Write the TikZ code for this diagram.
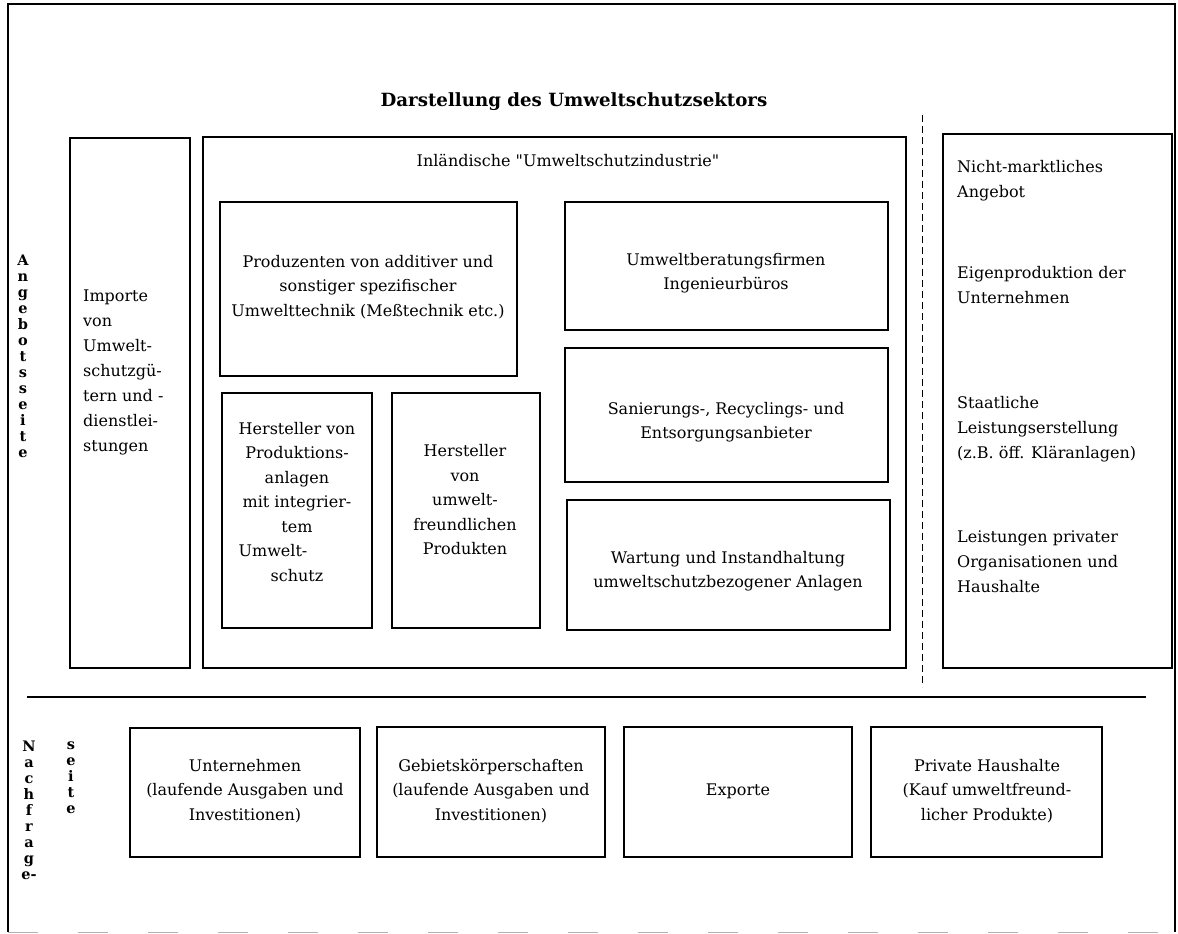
\documentclass[tikz,border=0pt]{standalone}
\usepackage{fontspec}
\setmainfont{DejaVu Serif}[Ligatures=TeXOff]
\usetikzlibrary{fit}
\begin{document}
\begin{tikzpicture}[x=1pt,y=-1pt,
  box/.style={draw, line width=1.3pt, inner sep=0pt},
  txt/.style={font=\fontsize{16}{24.5}\selectfont, align=center, inner sep=0pt},
  ltxt/.style={font=\fontsize{16}{25}\selectfont, align=left, anchor=west, inner sep=0pt},
  vlet/.style={font=\fontsize{14.5}{16}\selectfont\bfseries, align=center, inner sep=0pt}]
\useasboundingbox (0,0) rectangle (1178,934);
% outer frame
\coordinate (fTL) at (8,4);
\coordinate (fTR) at (1175,4);
\coordinate (fBL) at (8,932);
\coordinate (fBR) at (1175,932);
\draw[line width=1.3pt] (fBL) -- (fTL) -- (fTR) -- (fBR);
\draw[line width=0.4pt, gray!60, dash pattern=on 30pt off 40pt] (fBL) -- (fBR);
% title
\node[font=\fontsize{18.2}{22}\selectfont\bfseries, inner sep=0pt] (title) at (574,102) {Darstellung des Umweltschutzsektors};
% supply side boxes
\node[box, fit={(70,138) (190,668)}] (imp) {};
\node[box, fit={(203,137) (906,668)}] (ind) {};
\node[box, fit={(943,134) (1172,668)}] (nm) {};
\node[box, fit={(220,202) (517,376)}] (prod) {};
\node[box, fit={(565,202) (888,330)}] (ber) {};
\node[box, fit={(565,348) (888,482)}] (san) {};
\node[box, fit={(567,500) (890,630)}] (wart) {};
\node[box, fit={(222,393) (372,628)}] (hpa) {};
\node[box, fit={(392,393) (540,628)}] (hup) {};
% separators
\coordinate (dTop) at (922,115);
\coordinate (dBot) at (922,687);
\draw[line width=1pt, dash pattern=on 7pt off 4pt] (dTop) -- (dBot);
\coordinate (hL) at (27,697);
\coordinate (hR) at (1146,697);
\draw[line width=1.4pt] (hL) -- (hR);
% demand side boxes
\node[box, fit={(130,728) (360,857)}] (unt) {};
\node[box, fit={(377,727) (605,857)}] (geb) {};
\node[box, fit={(624,727) (852,857)}] (exp) {};
\node[box, fit={(871,727) (1102,857)}] (ph) {};
% texts
\node[txt] (tind) at (568,160) {Inländische "Umweltschutzindustrie"};
\node[txt] (tprod) at (368,287) {Produzenten von additiver und\\sonstiger spezifischer\\Umwelttechnik (Meßtechnik etc.)};
\node[txt] (tber) at (726,273) {Umweltberatungsfirmen\\Ingenieurbüros};
\node[txt] (tsan) at (726,422) {Sanierungs-, Recyclings- und\\Entsorgungsanbieter};
\node[txt] (twart) at (728,571) {Wartung und Instandhaltung\\umweltschutzbezogener Anlagen};
\node[txt] (thpa) at (297,502) {Hersteller von\\Produktions-\\anlagen\\mit integrier-\\tem\\\makebox[7.3em][l]{Umwelt-}\\schutz};
\node[txt] (thup) at (465,500) {Hersteller\\von\\umwelt-\\freundlichen\\Produkten};
\node[ltxt] (timp) at (83,372) {Importe\\von\\Umwelt-\\schutzgü-\\tern und -\\dienstlei-\\stungen};
\node[ltxt] (tnm1) at (957,181) {Nicht-marktliches\\Angebot};
\node[ltxt] (tnm2) at (957,285) {Eigenproduktion der\\Unternehmen};
\node[ltxt] (tnm3) at (957,429) {Staatliche\\Leistungserstellung\\(z.B. öff. Kläranlagen)};
\node[ltxt] (tnm4) at (957,562) {Leistungen privater\\Organisationen und\\Haushalte};
\node[txt] (tunt) at (245,791) {Unternehmen\\(laufende Ausgaben und\\Investitionen)};
\node[txt] (tgeb) at (491,791) {Gebietskörperschaften\\(laufende Ausgaben und\\Investitionen)};
\node[txt] (texp) at (738,791) {Exporte};
\node[txt] (tph) at (987,791) {Private Haushalte\\(Kauf umweltfreund-\\licher Produkte)};
% vertical labels
\node[vlet] (vang) at (23,356) {A\\n\\g\\e\\b\\o\\t\\s\\s\\e\\i\\t\\e};
\node[vlet] (vnach) at (29,810) {N\\a\\c\\h\\f\\r\\a\\g\\e-};
\node[vlet] (vseite) at (71,778) {s\\e\\i\\t\\e};
\end{tikzpicture}
\end{document}
